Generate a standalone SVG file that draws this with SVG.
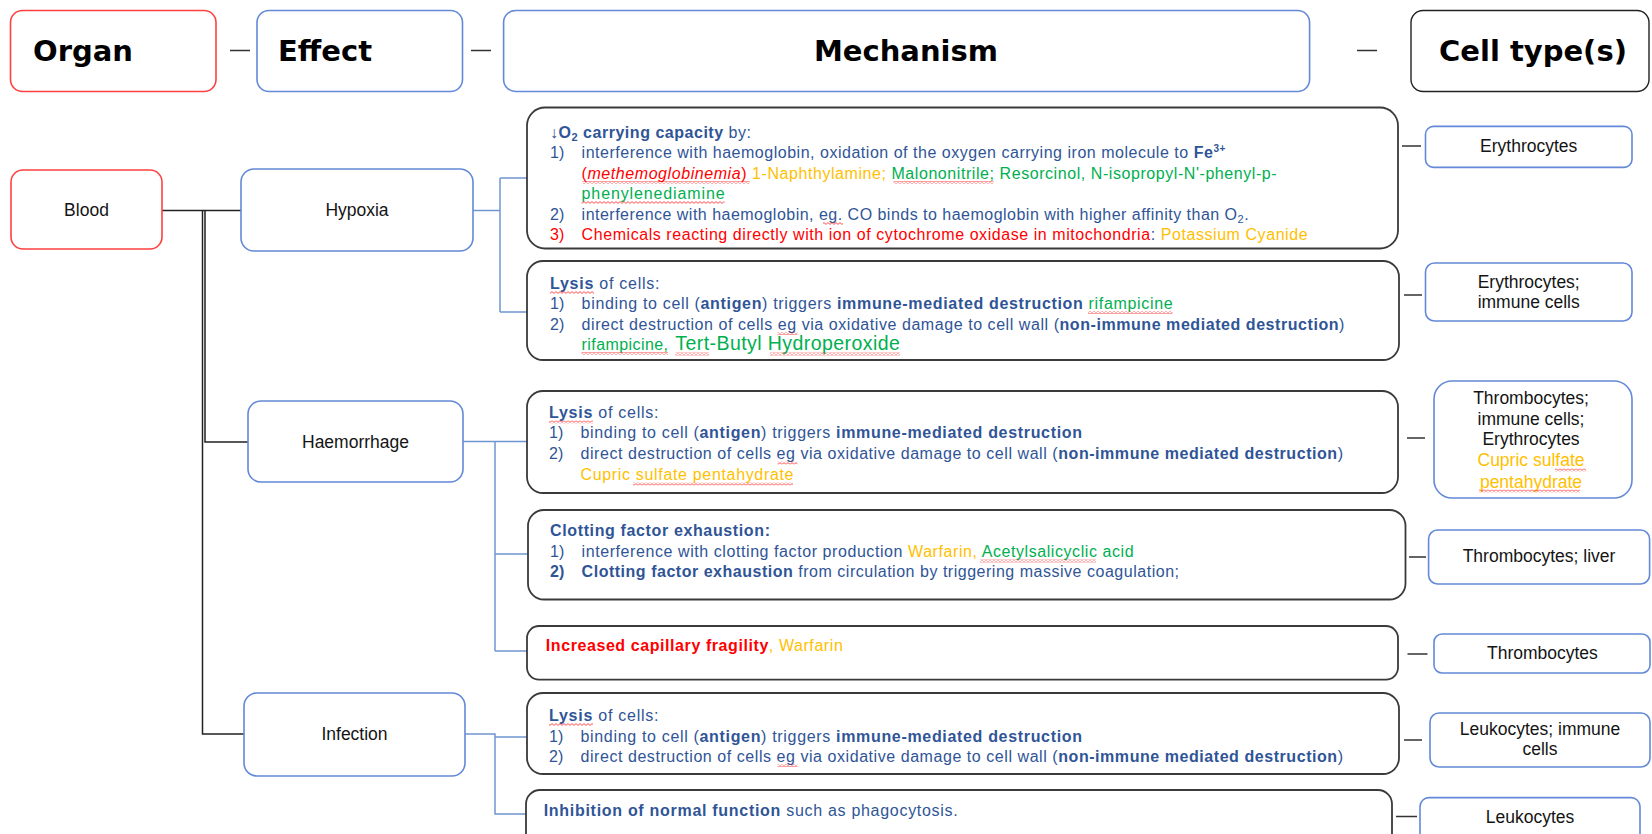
<svg xmlns="http://www.w3.org/2000/svg" width="1652" height="834" viewBox="0 0 1652 834">
<defs>
<style>
.hd{font-family:"DejaVu Sans",Verdana,sans-serif;font-weight:bold;font-size:29px;fill:#000}
.lb{font-family:"Liberation Sans",Arial,sans-serif;font-size:17.5px;fill:#141414;text-anchor:middle}
.mt{font-family:"Liberation Sans",Arial,sans-serif;font-size:16px;fill:#2F5597}
.big{font-size:19.5px}
.b{font-weight:bold}
.r{fill:#FF0000}
.o{fill:#FFC000}
.g{fill:#00B050}
.red{fill:#fff;stroke:#FF4040;stroke-width:1.6}
.blue{fill:#fff;stroke:#6389D8;stroke-width:1.6}
.dark{fill:#fff;stroke:#3A3A3A;stroke-width:1.8}
.blk{fill:#fff;stroke:#222;stroke-width:1.4}
.cb{fill:none;stroke:#222;stroke-width:1.5}
.cl{fill:none;stroke:#7096D2;stroke-width:1.5}
.ds{fill:none;stroke:#333;stroke-width:1.6}
</style>
<pattern id="sq" width="4" height="3" patternUnits="userSpaceOnUse"><path d="M0 0.6 L2 2.4 L4 0.6" fill="none" stroke="#FF2020" stroke-width="0.8"/></pattern>
</defs>
<rect width="1652" height="834" fill="#fff"/>

<g id="connectors">
<path class="ds" d="M230 50.5 H250 M471 50.5 H491 M1357 50.5 H1377"/>
<path class="cb" d="M162 210.5 H241 M205 210.5 V442 H248 M202.5 210.5 V734 H244"/>
<path class="cl" d="M473 210.5 H500 M500 178 V312 M500 178 H527 M500 312 H527"/>
<path class="cl" d="M463 441.5 H527 M495 441.5 V651 M495 554 H528 M495 651 H527"/>
<path class="cl" d="M465 734 H495 V814 H526 M495 737 H527"/>
<path class="ds" d="M1402 146 H1421 M1404 295 H1422 M1407 438 H1425 M1409 557 H1426 M1407.5 654 H1427.5 M1404 740 H1422 M1396 816.5 H1417"/>
</g>

<g id="hdr-organ"><rect class="red" x="10.5" y="10.5" width="205.5" height="81" rx="12"/><text class="hd" x="33" y="61">Organ</text></g>
<g id="hdr-effect"><rect class="blue" x="257" y="10.5" width="205.5" height="81" rx="12"/><text class="hd" x="278" y="61">Effect</text></g>
<g id="hdr-mechanism"><rect class="blue" x="503.6" y="10.5" width="806" height="81" rx="12"/><text class="hd" x="906" y="61" text-anchor="middle">Mechanism</text></g>
<g id="hdr-cell"><rect class="blk" x="1411" y="10.5" width="238" height="81" rx="12"/><text class="hd" x="1439" y="61">Cell type(s)</text></g>

<g id="organ-blood"><rect class="red" x="11" y="170" width="151" height="79" rx="12"/><text class="lb" x="86.5" y="215.5">Blood</text></g>
<g id="effect-hypoxia"><rect class="blue" x="241" y="169" width="232" height="82" rx="13"/><text class="lb" x="357" y="216">Hypoxia</text></g>
<g id="effect-haemorrhage"><rect class="blue" x="248" y="401" width="215" height="81" rx="13"/><text class="lb" x="355.5" y="447.5">Haemorrhage</text></g>
<g id="effect-infection"><rect class="blue" x="244" y="693" width="221" height="83" rx="13"/><text class="lb" x="354.5" y="740">Infection</text></g>

<g id="mech-o2">
<rect class="dark" x="527" y="107.5" width="871" height="141" rx="18"/>
<text class="mt" x="550" y="138" textLength="201"><tspan class="b">↓O</tspan><tspan class="b" font-size="11" dy="3">2</tspan><tspan class="b" dy="-3"> carrying capacity</tspan> by:</text>
<text class="mt" x="550" y="158">1)</text>
<text class="mt" x="581.6" y="158" textLength="643.7">interference with haemoglobin, oxidation of the oxygen carrying iron molecule to <tspan class="b">Fe</tspan><tspan class="b" font-size="10" dy="-6">3+</tspan></text>
<text class="mt" x="581.6" y="179" textLength="695"><tspan class="r">(<tspan font-style="italic">methemoglobinemia</tspan>)</tspan><tspan class="o"> 1-Naphthylamine;</tspan><tspan class="g"> Malononitrile; Resorcinol, N-isopropyl-N'-phenyl-p-</tspan></text>
<text class="mt g" x="581.6" y="199" textLength="143">phenylenediamine</text>
<text class="mt" x="550" y="220">2)</text>
<text class="mt" x="581.6" y="220" textLength="667">interference with haemoglobin, eg. CO binds to haemoglobin with higher affinity than O<tspan font-size="11" dy="3">2</tspan><tspan dy="-3">.</tspan></text>
<text class="mt r" x="550" y="240">3)</text>
<text class="mt" x="581.6" y="240" textLength="726"><tspan class="r">Chemicals reacting directly with ion of cytochrome oxidase in mitochondria</tspan>: <tspan class="o">Potassium Cyanide</tspan></text>
<rect x="582.6" y="181" width="167" height="3" fill="url(#sq)"/>
<rect x="893.5" y="181" width="100" height="3" fill="url(#sq)"/>
<rect x="581.6" y="201" width="143" height="3" fill="url(#sq)"/>
<rect x="823" y="222" width="20" height="3" fill="url(#sq)"/>
</g>

<g id="mech-lysis-1">
<rect class="dark" x="527" y="261" width="872" height="99" rx="16"/>
<text class="mt" x="550" y="288.5" textLength="109.5"><tspan class="b">Lysis</tspan> of cells:</text>
<text class="mt" x="550" y="308.5">1)</text>
<text class="mt" x="581.6" y="308.5" textLength="591">binding to cell (<tspan class="b">antigen</tspan>) triggers <tspan class="b">immune-mediated  destruction</tspan> <tspan class="g">rifampicine</tspan></text>
<text class="mt" x="550" y="329.5">2)</text>
<text class="mt" x="581.6" y="329.5" textLength="762.8">direct destruction of cells eg via oxidative damage to cell wall (<tspan class="b">non-immune mediated destruction</tspan>)</text>
<text class="mt g" x="581.6" y="349.5" textLength="86.4">rifampicine,</text>
<text class="mt g big" x="675.3" y="350" textLength="224.5">Tert-Butyl Hydroperoxide</text>
<rect x="550" y="291" width="44" height="3" fill="url(#sq)"/>
<rect x="1088" y="311" width="84.6" height="3" fill="url(#sq)"/>
<rect x="777.5" y="332" width="20" height="3" fill="url(#sq)"/>
<rect x="581.6" y="352" width="86.4" height="3" fill="url(#sq)"/>
<rect x="675.3" y="352.5" width="33.7" height="3" fill="url(#sq)"/>
<rect x="770" y="352.5" width="130" height="3" fill="url(#sq)"/>
</g>

<g id="mech-lysis-2">
<rect class="dark" x="527" y="391" width="871" height="102" rx="16"/>
<text class="mt" x="549" y="418" textLength="109.5"><tspan class="b">Lysis</tspan> of cells:</text>
<text class="mt" x="549" y="438">1)</text>
<text class="mt" x="580.5" y="438" textLength="501.5">binding to cell (<tspan class="b">antigen</tspan>) triggers <tspan class="b">immune-mediated  destruction</tspan></text>
<text class="mt" x="549" y="459">2)</text>
<text class="mt" x="580.5" y="459" textLength="762.5">direct destruction of cells eg via oxidative damage to cell wall (<tspan class="b">non-immune mediated destruction</tspan>)</text>
<text class="mt o" x="580.5" y="480" textLength="213">Cupric sulfate pentahydrate</text>
<rect x="549" y="420.5" width="44" height="3" fill="url(#sq)"/>
<rect x="777.5" y="461.5" width="20" height="3" fill="url(#sq)"/>
<rect x="633" y="482.5" width="160" height="3" fill="url(#sq)"/>
</g>

<g id="mech-clotting">
<rect class="dark" x="528" y="510" width="877.5" height="89.5" rx="16"/>
<text class="mt b" x="550" y="536" textLength="220">Clotting factor exhaustion:</text>
<text class="mt" x="550" y="557">1)</text>
<text class="mt" x="581.6" y="557" textLength="552">interference with clotting factor production <tspan class="o">Warfarin,</tspan> <tspan class="g">Acetylsalicyclic acid</tspan></text>
<text class="mt b" x="550" y="577">2)</text>
<text class="mt" x="581.6" y="577" textLength="597.4"><tspan class="b">Clotting factor exhaustion</tspan> from circulation by triggering massive coagulation;</text>
<rect x="980" y="559.5" width="116" height="3" fill="url(#sq)"/>
</g>

<g id="mech-capillary">
<rect class="dark" x="527" y="626" width="871" height="53.6" rx="12"/>
<text class="mt" x="545.8" y="651" textLength="297"><tspan class="b r">Increased capillary fragility</tspan><tspan class="o">, Warfarin</tspan></text>
</g>

<g id="mech-lysis-3">
<rect class="dark" x="527" y="693" width="872" height="81" rx="16"/>
<text class="mt" x="549" y="720.5" textLength="109.5"><tspan class="b">Lysis</tspan> of cells:</text>
<text class="mt" x="549" y="741.5">1)</text>
<text class="mt" x="580.5" y="741.5" textLength="501.5">binding to cell (<tspan class="b">antigen</tspan>) triggers <tspan class="b">immune-mediated  destruction</tspan></text>
<text class="mt" x="549" y="761.5">2)</text>
<text class="mt" x="580.5" y="761.5" textLength="762.5">direct destruction of cells eg via oxidative damage to cell wall (<tspan class="b">non-immune mediated destruction</tspan>)</text>
<rect x="549" y="723" width="44" height="3" fill="url(#sq)"/>
<rect x="777.5" y="764" width="20" height="3" fill="url(#sq)"/>
</g>

<g id="mech-inhibition">
<rect class="dark" x="526" y="790" width="866" height="70" rx="14"/>
<text class="mt" x="543.7" y="816" textLength="414"><tspan class="b">Inhibition of normal function</tspan> such as phagocytosis.</text>
</g>

<g id="cell-1"><rect class="blue" x="1425.5" y="126.4" width="206.5" height="41" rx="8"/><text class="lb" x="1528.7" y="152.4">Erythrocytes</text></g>
<g id="cell-2"><rect class="blue" x="1425.5" y="263" width="206.5" height="58" rx="9"/><text class="lb" x="1528.7" y="288.4">Erythrocytes;</text><text class="lb" x="1528.7" y="308.4">immune cells</text></g>
<g id="cell-3"><rect class="blue" x="1434" y="381" width="198" height="117" rx="18"/>
<text class="lb" x="1531" y="404">Thrombocytes;</text>
<text class="lb" x="1531" y="425">immune cells;</text>
<text class="lb" x="1531" y="445">Erythrocytes</text>
<text class="lb o" x="1531" y="466.4">Cupric sulfate</text>
<text class="lb o" x="1531" y="487.5">pentahydrate</text>
<rect x="1555" y="468.5" width="31" height="3" fill="url(#sq)"/>
<rect x="1479" y="489.5" width="101" height="3" fill="url(#sq)"/>
</g>
<g id="cell-4"><rect class="blue" x="1428.6" y="530" width="221" height="54" rx="9"/><text class="lb" x="1539" y="562">Thrombocytes; liver</text></g>
<g id="cell-5"><rect class="blue" x="1434" y="634" width="216" height="39" rx="8"/><text class="lb" x="1542.4" y="659">Thrombocytes</text></g>
<g id="cell-6"><rect class="blue" x="1430" y="713" width="220" height="54" rx="9"/><text class="lb" x="1540" y="735">Leukocytes; immune</text><text class="lb" x="1540" y="755">cells</text></g>
<g id="cell-7"><rect class="blue" x="1420" y="797.6" width="220" height="60" rx="9"/><text class="lb" x="1530" y="822.5">Leukocytes</text></g>
</svg>
